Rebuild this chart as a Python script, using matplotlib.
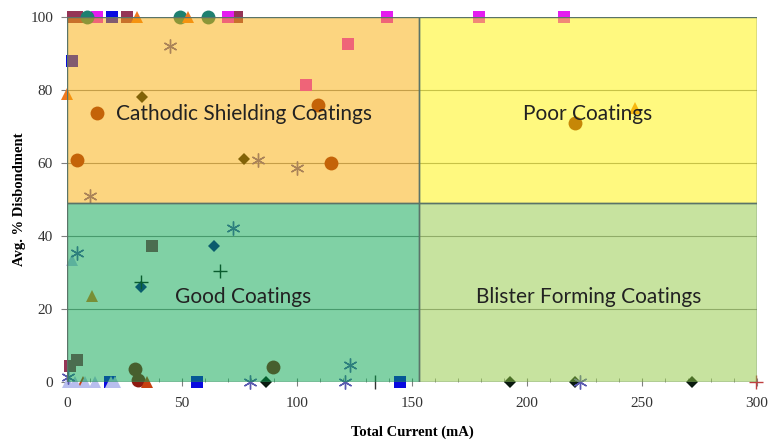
import matplotlib
matplotlib.use("Agg")
import matplotlib.pyplot as plt
from matplotlib.patches import Rectangle
from matplotlib.ticker import MultipleLocator

# ---- data (Total Current mA, Avg % Disbondment) ----
sq_magenta_x = [13, 70, 139, 179, 216, 104, 122]
sq_magenta_y = [100, 100, 100, 100, 100, 81.4, 92.6]
sq_blue_x = [19.5, 2, 18.7, 56.5, 145]
sq_blue_y = [100, 88, 0, 0, 0]
sq_maroon_x = [2.5, 4.5, 26, 74, 37, 1.5, 4.5]
sq_maroon_y = [100, 100, 100, 100, 37.3, 4.5, 6]
ci_teal_x = [8.7, 49, 61.3]
ci_teal_y = [100, 100, 100]
ci_red_x = [13, 4.3, 109, 115, 221, 29.5, 89.5, 31]
ci_red_y = [73.7, 60.8, 76, 60, 71, 3.6, 4.1, 0.5]
tr_orange_x = [30.4, 52.6, 0, 247, 11]
tr_orange_y = [100, 100, 79, 75, 23.6]
tr_red_x = [35, 7]
tr_red_y = [0, 0]
tr_lav_x = [2, 0.5, 3.5, 8, 12, 19, 21]
tr_lav_y = [33.4, 0, 0, 0, 0, 0, 0]
di_black_x = [32.6, 77, 86.5, 192.6, 221, 271.7]
di_black_y = [78, 61, 0, 0, 0, 0]
di_navy_x = [64, 32]
di_navy_y = [37.3, 26]
ast_x = [45, 10, 83, 100, 4.3, 72, 123, 0.5, 79.5, 121, 223]
ast_y = [92, 51, 60.8, 58.6, 35.3, 42.2, 4.7, 1.5, 0, 0, 0]
plus_x = [32, 66.5]
plus_y = [27.4, 30.4]
dash_x = [134]
dash_y = [0]
plus_red_x = [299.5]
plus_red_y = [0]

# region boundaries and labels
x_split = 153
y_split = 49
region_labels = ["Cathodic Shielding Coatings", "Poor Coatings",
                 "Good Coatings", "Blister Forming Coatings"]

fig = plt.figure(figsize=(7.69, 4.40), dpi=100)
ax = fig.add_axes([0.0871, 0.1318, 0.8973, 0.8296])
ax.set_xlim(0, 300)
ax.set_ylim(0, 100)

series = [
    (sq_maroon_x, sq_maroon_y, 's', '#953556', 8.5),
    (sq_magenta_x, sq_magenta_y, 's', '#E41CF0', 8.5),
    (sq_blue_x, sq_blue_y, 's', '#0A0AE0', 8.5),
    (ci_teal_x, ci_teal_y, 'o', '#1E8070', 10),
    (ci_red_x, ci_red_y, 'o', '#8E1A10', 10),
    (tr_orange_x, tr_orange_y, '^', '#F07A20', 9),
    (tr_red_x, tr_red_y, '^', '#C84010', 9),
    (tr_lav_x, tr_lav_y, '^', '#B8BEEE', 9),
    (di_black_x, di_black_y, 'D', '#0A1A10', 6.5),
    (di_navy_x, di_navy_y, 'D', '#14148F', 6.5),
    (ast_x, ast_y, (6, 2, 0), '#5A5AB0', 10),
    (plus_x, plus_y, '+', '#111111', 10),
    (dash_x, dash_y, '|', '#333333', 10),
    (plus_red_x, plus_red_y, '+', '#C04040', 10),
]
for xs, ys, mk, col, ms in series:
    if mk in ('+', '|') or isinstance(mk, tuple):
        ax.plot(xs, ys, linestyle='none', marker=mk, color=col, markersize=ms,
                markeredgewidth=1.0, clip_on=False, zorder=2)
    else:
        ax.plot(xs, ys, linestyle='none', marker=mk, color=col, markersize=ms,
                markeredgewidth=0, clip_on=False, zorder=2)

# grid
for gy in [20, 40, 60, 80]:
    ax.axhline(gy, color='#909090', lw=0.8, zorder=1)

# translucent region overlays
regions = [
    (0, y_split, x_split, 100 - y_split, '#FBAD02'),
    (x_split, y_split, 300 - x_split, 100 - y_split, '#FFF500'),
    (0, 0, x_split, y_split, '#02A54C'),
    (x_split, 0, 300 - x_split, y_split, '#91C941'),
]
for x0, y0, w, h, c in regions:
    ax.add_patch(Rectangle((x0, y0), w, h, facecolor=c, alpha=0.5,
                           edgecolor='none', zorder=3))
    ax.add_patch(Rectangle((x0, y0), w, h, facecolor='none',
                           edgecolor='#5A7468', lw=1.0, zorder=4))

label_pos = [(77, 73.4), (226.5, 73.4), (76.5, 23.2), (227, 23.2)]
for (tx, ty), lab in zip(label_pos, region_labels):
    ax.text(tx, ty, lab, ha='center', va='center', fontsize=15,
            family='Lato', color='#222222', zorder=5)

for s in ax.spines.values():
    s.set_visible(False)

ax.xaxis.set_major_locator(MultipleLocator(50))
ax.xaxis.set_minor_locator(MultipleLocator(10))
ax.yaxis.set_major_locator(MultipleLocator(20))
ax.tick_params(axis='x', which='major', direction='inout', length=6,
               color='#808080', pad=8)
ax.tick_params(axis='x', which='minor', direction='in', length=3,
               color='#808080')
ax.tick_params(axis='y', which='major', direction='out', length=4,
               color='#808080', pad=6)
for lab in ax.get_xticklabels() + ax.get_yticklabels():
    lab.set_family('Liberation Serif')
    lab.set_fontsize(11)
    lab.set_color('#333333')

ax.set_xlabel('Total Current (mA)', family='Liberation Serif', fontsize=10.5,
              fontweight='bold', labelpad=11)
ax.set_ylabel('Avg. % Disbondment', family='Liberation Serif', fontsize=10.5,
              fontweight='bold', labelpad=3)

fig.savefig('out.png', dpi=100)
